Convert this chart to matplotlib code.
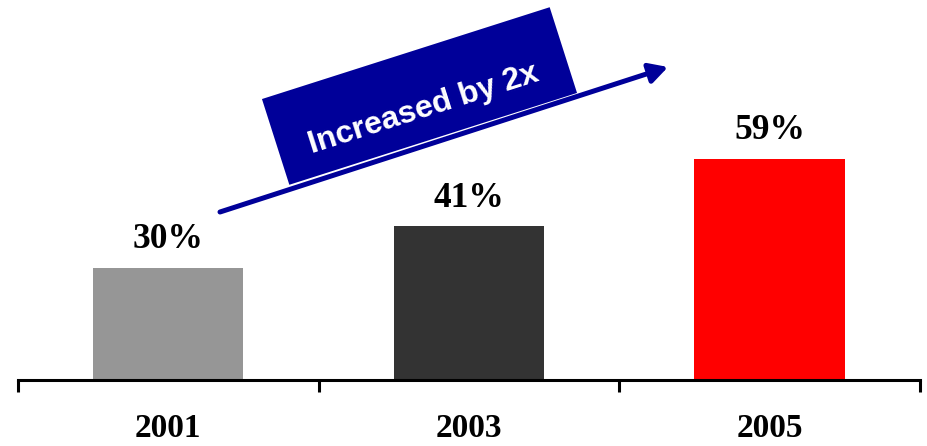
import matplotlib
matplotlib.use("Agg")
import matplotlib.pyplot as plt
from matplotlib.patches import Rectangle, FancyArrowPatch

# values
years = ["2001", "2003", "2005"]
shares = [30, 41, 59]
bar_colors = ["#969696", "#333333", "#ff0000"]
callout = "Increased by 2x"

W, H, DPI = 928, 446, 100
fig = plt.figure(figsize=(W / DPI, H / DPI), dpi=DPI)
ax = fig.add_axes([18 / W, (H - 380) / H, 902 / W, 375 / H])

x = list(range(len(years)))
ax.bar(x, shares, width=0.5, color=bar_colors, zorder=2)
ax.set_xlim(-0.5, len(years) - 0.5)
ax.set_ylim(0, 100)

for xi, v in zip(x, shares):
    ax.annotate(f"{v}%", (xi, v), xytext=(0, 14), textcoords="offset points",
                ha="center", va="baseline", fontsize=25.5, fontweight="bold",
                family="Liberation Serif")

# axis: only the baseline with category separators
for s in ["top", "left", "right"]:
    ax.spines[s].set_visible(False)
ax.spines["bottom"].set_linewidth(2.2)
ax.set_yticks([])
ax.set_xticks([i - 0.5 for i in range(len(years) + 1)])
ax.set_xticklabels([])
ax.tick_params(axis="x", which="major", direction="out", length=8.5, width=2.2)
ax.set_xticks(x, minor=True)
ax.set_xticklabels(years, minor=True, fontsize=24, fontweight="bold",
                   family="Liberation Serif")
ax.tick_params(axis="x", which="minor", length=0, pad=23.5)

# trend arrow and rotated callout box (pixel layout, inches transform)
tr = fig.dpi_scale_trans
def px(xp, yp):
    return (xp / DPI, (H - yp) / DPI)

arrow = FancyArrowPatch(px(220, 212), px(668, 67), transform=tr,
                        arrowstyle="-|>,head_length=0.55,head_width=0.3",
                        mutation_scale=20, linewidth=3.6, color="#000099",
                        shrinkA=0, shrinkB=0)
fig.patches.append(arrow)

angle = 17.7
bw, bh = 302 / DPI, 90 / DPI
cx, cy = px(419.5, 96)
box = Rectangle((cx - bw / 2, cy - bh / 2), bw, bh, angle=angle,
                rotation_point="center", transform=tr,
                facecolor="#000099", edgecolor="none")
fig.patches.append(box)

tx, ty = px(424, 109)
fig.text(tx, ty, callout, transform=tr, rotation=angle, rotation_mode="anchor",
         ha="center", va="center", color="white", fontsize=23,
         fontweight="bold", family="Liberation Sans")

fig.savefig("out.png", dpi=DPI)
